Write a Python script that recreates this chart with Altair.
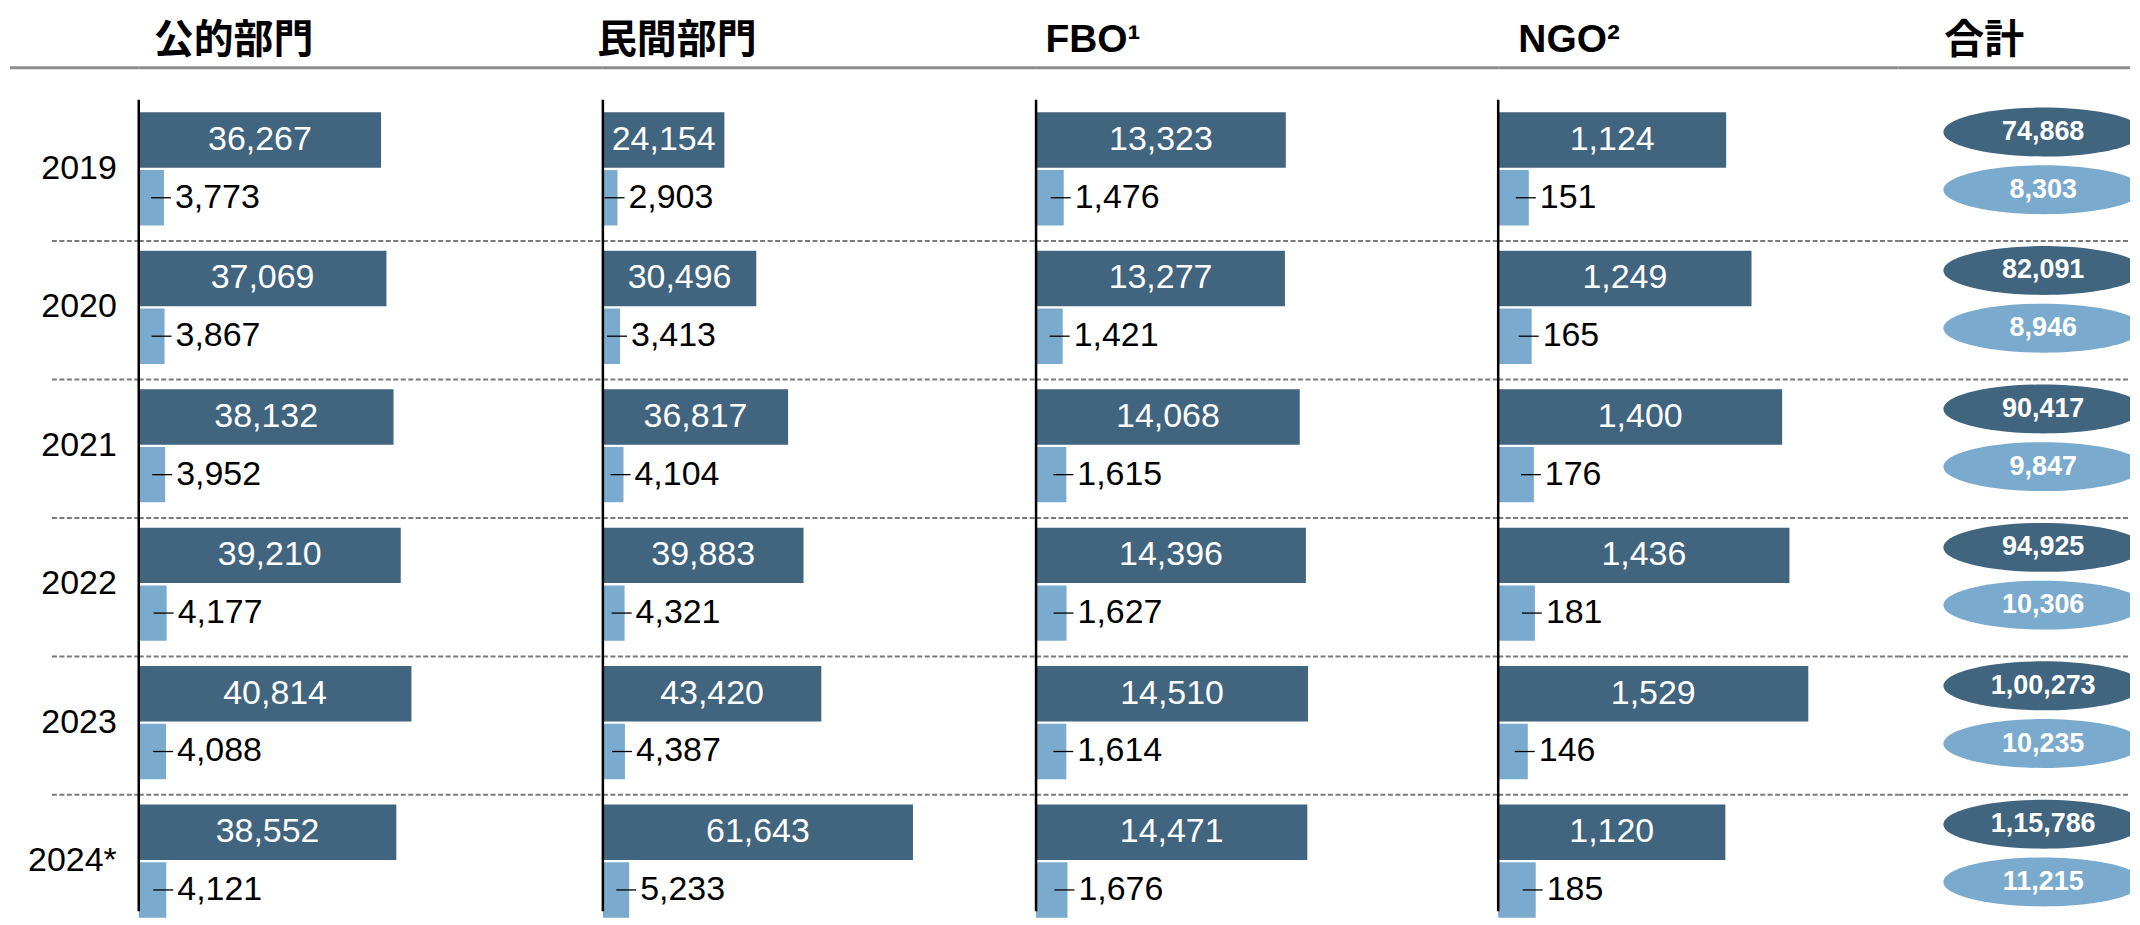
import altair as alt
import pandas as pd

# ---------------- data ----------------
years = ["2019", "2020", "2021", "2022", "2023", "2024*"]
series = ["総数", "内数"]

public_main = [36267, 37069, 38132, 39210, 40814, 38552]
public_sub = [3773, 3867, 3952, 4177, 4088, 4121]
private_main = [24154, 30496, 36817, 39883, 43420, 61643]
private_sub = [2903, 3413, 4104, 4321, 4387, 5233]
fbo_main = [13323, 13277, 14068, 14396, 14510, 14471]
fbo_sub = [1476, 1421, 1615, 1627, 1614, 1676]
ngo_main = [1124, 1249, 1400, 1436, 1529, 1120]
ngo_sub = [151, 165, 176, 181, 146, 185]
total_main = [74868, 82091, 90417, 94925, 100273, 115786]
total_sub = [8303, 8946, 9847, 10306, 10235, 11215]

titles = ["公的部門", "民間部門", "FBO¹", "NGO²", "合計"]

# ---------------- style ----------------
DARK = "#41647F"
LIGHT = "#7AABCE"
NUM_FONT = "Liberation Sans, Arial, sans-serif"
CJK_FONT = "Noto Sans CJK JP"
LAT_TITLE_FONT = "Liberation Sans Narrow, Arial Narrow, Liberation Sans"

H = 904
Y0 = 91
STEP = 138.7
BAND = STEP * (1 - 0.183)


def indian(n):
    s = str(n)
    if len(s) <= 3:
        return s
    last3, rest = s[-3:], s[:-3]
    groups = []
    while len(rest) > 2:
        groups.insert(0, rest[-2:])
        rest = rest[:-2]
    if rest:
        groups.insert(0, rest)
    return ",".join(groups + [last3])


def yscale():
    return alt.Scale(type="band", domain=years, range=[Y0, Y0 + 6 * STEP],
                     paddingInner=0.183, paddingOuter=0.0915)


def yoscale(shift=0):
    return alt.Scale(type="band", domain=series, paddingInner=0.04, paddingOuter=0,
                     range=[shift, BAND + shift])


color_scale = alt.Scale(domain=series, range=[DARK, LIGHT])

title_df = pd.DataFrame({"t": ["x"]})
sep_df = pd.DataFrame({"year": years[1:]})


def header_layers(width, title, tx, x0=0):
    layers = []
    layers.append(
        alt.Chart(title_df).mark_rule(color="#8C8C8C", strokeWidth=3).encode(
            x=alt.value(0), x2=alt.value(width), y=alt.value(59)
        )
    )
    layers.append(
        alt.Chart(sep_df).mark_rule(color="#7A7A7A", strokeWidth=2,
                                    strokeDash=[5, 2.5], yOffset=-9.7).encode(
            y=alt.Y("year:N", scale=yscale(), axis=None, bandPosition=0),
            x=alt.value(x0), x2=alt.value(width),
        )
    )
    if title is not None:
        is_cjk = title not in ("FBO¹", "NGO²")
        layers.append(
            alt.Chart(pd.DataFrame({"t": [title]})).mark_text(
                font=CJK_FONT if is_cjk else LAT_TITLE_FONT,
                fontSize=40 if is_cjk else 39,
                fontWeight="bold", align="center", baseline="alphabetic",
                color="black",
            ).encode(text="t:N", x=alt.value(tx), y=alt.value(44 if is_cjk else 43))
        )
    return layers


def bar_panel(main, sub, width, ppu, title, tx):
    rows = []
    for y, m, s in zip(years, main, sub):
        rows.append({"year": y, "series": series[0], "value": m, "label": indian(m)})
        rows.append({"year": y, "series": series[1], "value": s, "label": indian(s)})
    df = pd.DataFrame(rows)
    xs = alt.Scale(domain=[0, width / ppu], nice=False, zero=True)
    base = alt.Chart(df)
    y_enc = alt.Y("year:N", scale=yscale(), axis=None, sort=years)
    yo_enc = alt.YOffset("series:N", scale=yoscale(), sort=series)

    bars = base.mark_bar().encode(
        x=alt.X("value:Q", scale=xs, axis=None),
        y=y_enc, yOffset=yo_enc,
        color=alt.Color("series:N", scale=color_scale, legend=None),
    )
    dark_lbl = base.transform_filter(alt.datum.series == series[0]).transform_calculate(
        mid="datum.value / 2"
    ).mark_text(font=NUM_FONT, fontSize=34, color="white", align="center",
                baseline="middle").encode(
        x=alt.X("mid:Q", scale=xs, axis=None), y=y_enc, yOffset=yo_enc, text="label:N"
    )
    light_base = base.transform_filter(alt.datum.series == series[1])
    leaders = light_base.mark_rule(color="black", strokeWidth=1.3,
                                   xOffset=-13, x2Offset=7).encode(
        x=alt.X("value:Q", scale=xs, axis=None), x2="value:Q", y=y_enc, yOffset=yo_enc
    )
    light_lbl = light_base.mark_text(font=NUM_FONT, fontSize=34, color="black",
                                     align="left", baseline="middle", dx=11).encode(
        x=alt.X("value:Q", scale=xs, axis=None), y=y_enc, yOffset=yo_enc, text="label:N"
    )
    vline = alt.Chart(title_df).mark_rule(color="black", strokeWidth=2.5).encode(
        x=alt.datum(0, scale=xs), y=alt.value(Y0), y2=alt.value(H)
    )
    layers = header_layers(width, title, tx) + [bars, leaders, dark_lbl, light_lbl, vline]
    return alt.layer(*layers).properties(width=width, height=H)


# year label panel
year_df = pd.DataFrame({"year": years})
year_panel = alt.layer(
    *header_layers(129, None, 0, x0=42),
    alt.Chart(year_df).mark_text(font=NUM_FONT, fontSize=34, color="black",
                                 align="right", baseline="middle").encode(
        y=alt.Y("year:N", scale=yscale(), axis=None, sort=years),
        x=alt.value(107), text="year:N",
    ),
).properties(width=129, height=H)

p1 = bar_panel(public_main, public_sub, 465, 0.006694, titles[0], 95)
p2 = bar_panel(private_main, private_sub, 434, 0.00504, titles[1], 74)
p3 = bar_panel(fbo_main, fbo_sub, 463, 0.01878, titles[2], 57)
p4 = bar_panel(ngo_main, ngo_sub, 401, 0.2032, titles[3], 71)

# totals panel
trows = []
for y, m, s in zip(years, total_main, total_sub):
    trows.append({"year": y, "series": series[0], "label": indian(m)})
    trows.append({"year": y, "series": series[1], "label": indian(s)})
tdf = pd.DataFrame(trows)
# ellipse drawn with cubic Bezier segments (rx = 1, ry = 0.245)
ELLIPSE = ("M-1,0C-1,-0.1353,-0.5523,-0.245,0,-0.245"
           "C0.5523,-0.245,1,-0.1353,1,0"
           "C1,0.1353,0.5523,0.245,0,0.245"
           "C-0.5523,0.245,-1,0.1353,-1,0Z")
ty = alt.Y("year:N", scale=yscale(), axis=None, sort=years)
tyo = alt.YOffset("series:N", scale=yoscale(-8), sort=series)
ellipses = alt.Chart(tdf).mark_point(shape=ELLIPSE, size=40000, filled=True,
                                     opacity=1, clip=True).encode(
    x=alt.value(145), y=ty, yOffset=tyo,
    color=alt.Color("series:N", scale=color_scale, legend=None),
)
etext = alt.Chart(tdf).mark_text(font=NUM_FONT, fontSize=27, fontWeight="bold",
                                 color="white", align="center",
                                 baseline="middle").encode(
    x=alt.value(145), y=ty, yOffset=tyo, text="label:N"
)
tot_panel = alt.layer(*header_layers(232, titles[4], 86), ellipses, etext).properties(
    width=232, height=H
)

chart = alt.hconcat(
    year_panel, p1, p2, p3, p4, tot_panel, spacing=0, bounds="flush"
).resolve_scale(x="independent", yOffset="independent").configure_view(
    stroke=None
).properties(padding=0, background="white")

chart.save("out.html", embed_options={"renderer": "svg", "actions": False})
